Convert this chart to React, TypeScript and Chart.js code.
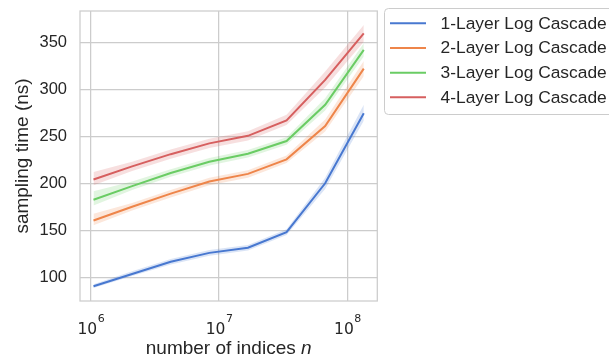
import React, { useEffect, useRef } from "react";
import { Chart, registerables } from "chart.js";
Chart.register(...registerables);

// ---- data ----
const nValues = [1048576, 2097152, 4194304, 8388608, 16777216, 33554432, 67108864, 134217728];
const seriesNames = [
  "1-Layer Log Cascade",
  "2-Layer Log Cascade",
  "3-Layer Log Cascade",
  "4-Layer Log Cascade",
];
const layer1 = [90.5, 103.5, 116.5, 126, 131.5, 148, 200, 274.5];
const layer2 = [160.5, 175, 189, 202, 210, 225.5, 261, 322];
const layer3 = [182.5, 197, 211, 223, 231.5, 245, 283.5, 342];
const layer4 = [204, 218, 231, 242.5, 250.5, 267, 310, 359.5];
// confidence band offsets below / above the mean
const layer1Lo = [2, 2, 3, 3, 3, 3, 6, 8];
const layer1Hi = [2, 3, 3, 3, 3, 3, 6, 9];
const layer2Lo = [5, 4, 4, 4, 4, 4, 6, 8];
const layer2Hi = [7, 4, 4, 4, 4, 4, 7, 8];
const layer3Lo = [6, 4, 4, 4, 4, 4, 6, 7];
const layer3Hi = [9, 5, 4, 4, 4, 4, 7, 7];
const layer4Lo = [6, 5, 5, 5, 5, 5, 8, 9];
const layer4Hi = [8, 5, 5, 5, 5, 6, 9, 9];
const yTicks = [100, 150, 200, 250, 300, 350];
const xTicks = [1e6, 1e7, 1e8];
const xTickExponents = ["6", "7", "8"];
const colors = ["#4878d0", "#ee854a", "#6acc64", "#d65f5f"];
const bandColors = [
  "rgba(72,120,208,0.2)",
  "rgba(238,133,74,0.2)",
  "rgba(106,204,100,0.2)",
  "rgba(214,95,95,0.2)",
];
const xLabel = "number of indices ";
const xLabelItalic = "n";
const yLabel = "sampling time (ns)";

const allSeries = [layer1, layer2, layer3, layer4];
const allLo = [layer1Lo, layer2Lo, layer3Lo, layer4Lo];
const allHi = [layer1Hi, layer2Hi, layer3Hi, layer4Hi];

const TEXT = "#262626";
const GRID = "#cccccc";

const decorPlugin = {
  id: "decor",
  afterDraw(chart: any) {
    const ctx = chart.ctx;
    const ca = chart.chartArea;
    ctx.save();
    // frame
    ctx.strokeStyle = GRID;
    ctx.lineWidth = 1.25;
    ctx.strokeRect(ca.left, ca.top, ca.right - ca.left, ca.bottom - ca.top);

    // x tick labels 10^k
    const xs = chart.scales.x;
    ctx.fillStyle = TEXT;
    ctx.textBaseline = "alphabetic";
    ctx.textAlign = "left";
    xTicks.forEach((v, i) => {
      const px = xs.getPixelForValue(v);
      ctx.font = "15.5px 'DejaVu Sans'";
      const wBase = ctx.measureText("10").width;
      ctx.font = "11px 'DejaVu Sans'";
      const wSup = ctx.measureText(xTickExponents[i]).width;
      const start = px - (wBase + wSup) / 2;
      ctx.font = "15.5px 'DejaVu Sans'";
      ctx.fillText("10", start, 333.5);
      ctx.font = "11px 'DejaVu Sans'";
      ctx.fillText(xTickExponents[i], start + wBase + 0.5, 322);
    });

    // x axis title
    ctx.font = "19px 'Liberation Sans'";
    const w1 = ctx.measureText(xLabel).width;
    ctx.font = "italic 19px 'Liberation Sans'";
    const w2 = ctx.measureText(xLabelItalic).width;
    const cx = (ca.left + ca.right) / 2;
    const sx = cx - (w1 + w2) / 2;
    ctx.font = "19px 'Liberation Sans'";
    ctx.fillText(xLabel, sx, 354);
    ctx.font = "italic 19px 'Liberation Sans'";
    ctx.fillText(xLabelItalic, sx + w1, 354);

    // y axis title
    ctx.save();
    ctx.translate(23, (ca.top + ca.bottom) / 2);
    ctx.rotate(-Math.PI / 2);
    ctx.font = "19px 'Liberation Sans'";
    ctx.textAlign = "center";
    ctx.textBaseline = "middle";
    ctx.fillText(yLabel, 0, 0);
    ctx.restore();

    // legend
    const lx = 384.5;
    const ly = 8.5;
    const lw = 260;
    const lh = 106;
    const r = 4;
    ctx.beginPath();
    ctx.moveTo(lx + r, ly);
    ctx.lineTo(lx + lw - r, ly);
    ctx.arcTo(lx + lw, ly, lx + lw, ly + r, r);
    ctx.lineTo(lx + lw, ly + lh - r);
    ctx.arcTo(lx + lw, ly + lh, lx + lw - r, ly + lh, r);
    ctx.lineTo(lx + r, ly + lh);
    ctx.arcTo(lx, ly + lh, lx, ly + lh - r, r);
    ctx.lineTo(lx, ly + r);
    ctx.arcTo(lx, ly, lx + r, ly, r);
    ctx.closePath();
    ctx.fillStyle = "rgba(255,255,255,0.8)";
    ctx.fill();
    ctx.strokeStyle = GRID;
    ctx.lineWidth = 1;
    ctx.stroke();
    seriesNames.forEach((name, i) => {
      const y = 23.3 + i * 24.67;
      ctx.strokeStyle = colors[i];
      ctx.lineWidth = 2;
      ctx.beginPath();
      ctx.moveTo(390, y);
      ctx.lineTo(426, y);
      ctx.stroke();
      ctx.fillStyle = TEXT;
      ctx.font = "17.4px 'Liberation Sans'";
      ctx.textAlign = "left";
      ctx.textBaseline = "middle";
      ctx.fillText(name, 440.5, y + 0.5);
    });
    ctx.restore();
  },
};

export default function App() {
  const ref = useRef<HTMLCanvasElement | null>(null);
  useEffect(() => {
    if (!ref.current) return;
    const datasets: any[] = [];
    allSeries.forEach((vals, i) => {
      const lo = allLo[i];
      const hi = allHi[i];
      datasets.push({
        label: seriesNames[i] + " lo",
        data: nValues.map((x, j) => ({ x, y: vals[j] - lo[j] })),
        borderWidth: 0,
        pointRadius: 0,
        fill: false,
        order: 1,
      });
      datasets.push({
        label: seriesNames[i] + " hi",
        data: nValues.map((x, j) => ({ x, y: vals[j] + hi[j] })),
        borderWidth: 0,
        pointRadius: 0,
        fill: "-1",
        backgroundColor: bandColors[i],
        order: 1,
      });
      datasets.push({
        label: seriesNames[i],
        data: nValues.map((x, j) => ({ x, y: vals[j] })),
        borderColor: colors[i],
        borderWidth: 2,
        pointRadius: 0,
        fill: false,
        tension: 0,
        order: 0,
      });
    });
    const chart = new Chart(ref.current, {
      type: "line",
      data: { datasets },
      options: {
        animation: false,
        responsive: false,
        devicePixelRatio: 1,
        layout: { padding: { left: 0, top: 11, right: 231.7, bottom: 0 } },
        plugins: { legend: { display: false }, tooltip: { enabled: false } },
        scales: {
          x: {
            type: "logarithmic",
            min: 8.23e5,
            max: 1.711e8,
            grid: { color: GRID, lineWidth: 1.25, drawTicks: false },
            border: { display: false },
            ticks: { display: false },
            afterBuildTicks: (s: any) => {
              s.ticks = xTicks.map((v) => ({ value: v }));
            },
            afterFit: (s: any) => {
              s.height = 57;
              s.paddingLeft = 0;
              s.paddingRight = 0;
            },
          },
          y: {
            type: "linear",
            min: 74.8,
            max: 383.3,
            grid: { color: GRID, lineWidth: 1.25, drawTicks: false },
            border: { display: false },
            ticks: {
              color: TEXT,
              padding: 13,
              font: { family: "'Liberation Sans'", size: 16.5 },
            },
            afterBuildTicks: (s: any) => {
              s.ticks = yTicks.map((v) => ({ value: v }));
            },
            afterFit: (s: any) => {
              s.width = 80;
              s.paddingTop = 0;
              s.paddingBottom = 0;
            },
          },
        },
      },
      plugins: [decorPlugin],
    });
    return () => chart.destroy();
  }, []);
  return (
    <div style={{ position: "absolute", left: 0, top: 0, width: 609, height: 358, background: "#fff" }}>
      <canvas ref={ref} width={609} height={358} />
    </div>
  );
}
